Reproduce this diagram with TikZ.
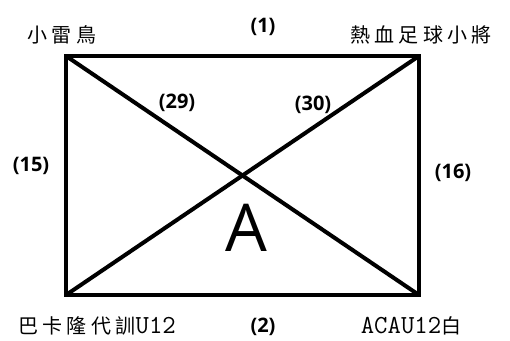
\documentclass[tikz,border=0pt]{standalone}
\usepackage{fontspec}
\setmainfont{Open Sans}
\newfontfamily\cjk{Noto Sans CJK TC}[LetterSpace=22]
\usepackage{tikz}
\usetikzlibrary{
  positioning,
  calc
}
\definecolor{FieldLine}{HTML}{000000}

\tikzset{
  teamname/.style={font=\cjk\fontsize{20}{24}\selectfont,inner sep=0pt},
  sidenum/.style={font=\bfseries\fontsize{20}{24}\selectfont,inner sep=0pt},
  fieldline/.style={draw=FieldLine,line width=4pt}
}
\newcommand{\halfw}[1]{{\ttfamily\fontsize{26}{28}\selectfont #1}}

\begin{document}
\begin{tikzpicture}[x=1pt,y=-1pt]
    \useasboundingbox (0,0) rectangle (510,340);
    % corners of the field
    \coordinate (tl) at (66,56);
    \coordinate (tr) at (419,56);
    \coordinate (bl) at (66,295);
    \coordinate (br) at (419,295);
    \draw[fieldline] (tl) rectangle (br);
    \draw[fieldline] (tl) -- (br);
    \draw[fieldline] (tr) -- (bl);

    % teams
    \node[teamname] (nw) at (62,35) {小雷鳥};
    \node[teamname] (ne) at (421,35) {熱血足球小將};
    \node[teamname] (sw) at (97,326) {巴卡隆代訓\halfw{U12}};
    \node[teamname] (se) at (411,326) {\halfw{ACAU12}白};

    % match numbers
    \node[sidenum] (m1) at (263,27) {(1)};
    \node[sidenum] (m2) at (263,327) {(2)};
    \node[sidenum] (m15) at (31,166) {(15)};
    \node[sidenum] (m16) at (453,173) {(16)};
    \node[sidenum] (m29) at (177,103) {(29)};
    \node[sidenum] (m30) at (313,105) {(30)};

    \node[font=\fontsize{66}{70}\selectfont,inner sep=0pt] (grp) at (246,228) {A};
\end{tikzpicture}
\end{document}
